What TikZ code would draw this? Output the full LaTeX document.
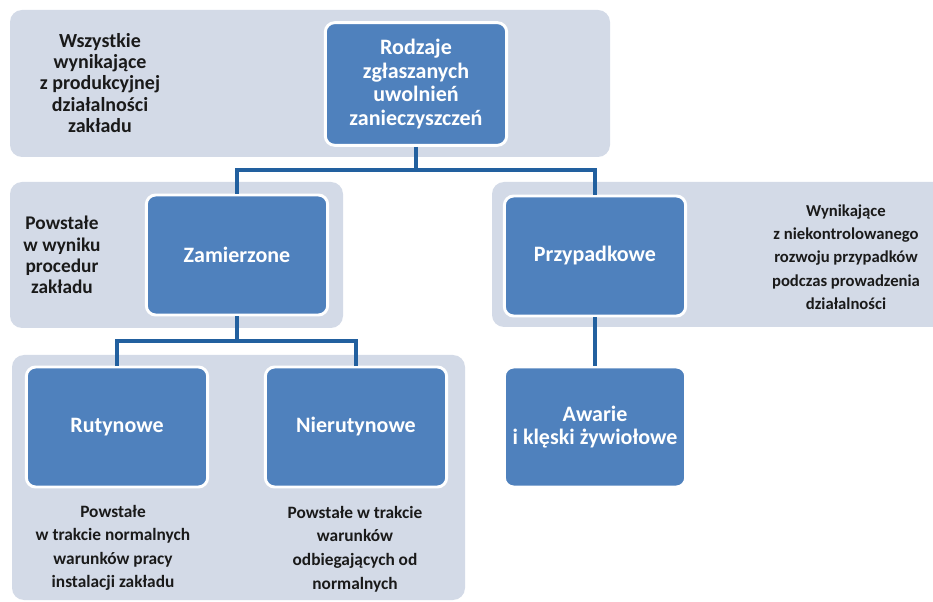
\documentclass[tikz,border=0pt]{standalone}
\usepackage{fontspec}
\setmainfont{Carlito}
\definecolor{panelc}{HTML}{D3DAE7}
\definecolor{boxc}{HTML}{4F81BD}
\definecolor{connc}{HTML}{22609F}
\definecolor{txtc}{HTML}{1A1A1A}
\begin{document}
\begin{tikzpicture}[x=0.75pt,y=-0.75pt,
  panel/.style={fill=panelc, rounded corners=9pt},
  box/.style={rectangle, rounded corners=7pt, fill=boxc, draw=white, line width=2.2pt,
    minimum width=136pt, minimum height=90pt, inner sep=2pt, align=center,
    text=white, font=\fontsize{16.5}{17.8}\selectfont\bfseries},
  note/.style={align=center, text=txtc, inner sep=0pt, font=\fontsize{13}{17.5}\selectfont\bfseries},
  conn/.style={draw=connc, line width=2.6pt}]
\useasboundingbox (0,0) rectangle (933,602);
% background panels
\fill[panel] (10,10) rectangle (610,157);
\fill[panel] (10,182) rectangle (343,328);
\fill[panel] (492,182) rectangle (945,327);
\fill[panel] (12,355) rectangle (465,600);
% boxes
\node[box, minimum height=92pt] (rod) at (416,84) {Rodzaje\\zgłaszanych\\uwolnień\\zanieczyszczeń};
\node[box] (zam) at (237,255) {Zamierzone};
\node[box] (prz) at (595,256) {Przypadkowe};
\node[box] (rut) at (117,427) {Rutynowe};
\node[box] (nie) at (356,427) {Nierutynowe};
\node[box] (awa) at (595,427) {Awarie\\i klęski żywiołowe};
% notes
\node[note, font=\fontsize{15}{16}\selectfont\bfseries] (n1) at (100,83) {Wszystkie\\wynikające\\z produkcyjnej\\działalności\\zakładu};
\node[note, font=\fontsize{14.5}{16}\selectfont\bfseries] (n2) at (62,255) {Powstałe\\w wyniku\\procedur\\zakładu};
\node[note, font=\fontsize{12.5}{17.5}\selectfont\bfseries] (n3) at (846,257) {Wynikające\\z niekontrolowanego\\rozwoju przypadków\\podczas prowadzenia\\działalności};
\node[note] (n4) at (113,548) {Powstałe\\w trakcie normalnych\\warunków pracy\\instalacji zakładu};
\node[note, font=\fontsize{13}{17.8}\selectfont\bfseries] (n5) at (355,549) {Powstałe w trakcie\\warunków\\odbiegających od\\normalnych};
% connectors
\coordinate (j1) at (416,170);
\coordinate (j2) at (237,341);
\draw[conn] (rod.south) -- (j1);
\draw[conn] (zam.north) |- (j1) -| (prz.north);
\draw[conn] (zam.south) -- (j2);
\draw[conn] (rut.north) |- (j2) -| (nie.north);
\draw[conn] (prz.south) -- (awa.north);
\end{tikzpicture}
\end{document}
